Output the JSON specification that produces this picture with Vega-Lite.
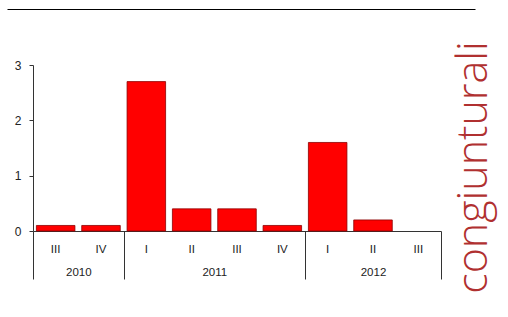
{
  "$schema": "https://vega.github.io/schema/vega-lite/v6.json",
  "width": 408,
  "height": 166,
  "autosize": {"type": "none"},
  "padding": {"left": 33, "top": 65, "right": 67, "bottom": 86},
  "background": "white",
  "config": {"view": {"stroke": null}, "font": "Liberation Sans"},
  "datasets": {
    "quarters": [
      {"key": "2010-III", "year": "2010", "q": "III", "value": 0.1},
      {"key": "2010-IV", "year": "2010", "q": "IV", "value": 0.1},
      {"key": "2011-I", "year": "2011", "q": "I", "value": 2.7},
      {"key": "2011-II", "year": "2011", "q": "II", "value": 0.4},
      {"key": "2011-III", "year": "2011", "q": "III", "value": 0.4},
      {"key": "2011-IV", "year": "2011", "q": "IV", "value": 0.1},
      {"key": "2012-I", "year": "2012", "q": "I", "value": 1.6},
      {"key": "2012-II", "year": "2012", "q": "II", "value": 0.2},
      {"key": "2012-III", "year": "2012", "q": "III", "value": 0}
    ],
    "years": [
      {"year": "2010", "start": 0, "end": 2},
      {"year": "2011", "start": 2, "end": 6},
      {"year": "2012", "start": 6, "end": 9}
    ]
  },
  "layer": [
    {
      "data": {"name": "quarters"},
      "mark": {"type": "bar", "fill": "#ff0000", "stroke": "#8b0000"},
      "encoding": {
        "x": {
          "field": "key", "type": "nominal", "sort": null,
          "scale": {"paddingInner": 0.15, "paddingOuter": 0.075},
          "axis": {
            "orient": "bottom", "title": null, "labelAngle": 0,
            "labelExpr": "split(datum.value, '-')[1]",
            "ticks": false, "tickSize": 0, "labelPadding": 18, "labelBaseline": "middle",
            "labelFontSize": 11.5, "labelColor": "#222222",
            "domainColor": "#333333", "domainWidth": 1
          }
        },
        "y": {
          "field": "value", "type": "quantitative",
          "scale": {"domain": [0, 3], "nice": false},
          "axis": {
            "title": null, "values": [0, 1, 2, 3], "grid": false,
            "tickSize": 4, "tickColor": "#333333", "domainColor": "#333333",
            "labelPadding": 8, "labelFontSize": 12, "labelColor": "#222222",
            "labelBaseline": "middle"
          }
        },
        "strokeWidth": {"condition": {"test": "datum.value == 0", "value": 0}, "value": 0.8}
      }
    },
    {
      "data": {"name": "years"},
      "mark": {"type": "rule", "opacity": 0},
      "encoding": {
        "x": {
          "field": "start", "type": "quantitative",
          "scale": {"domain": [0, 9], "nice": false, "zero": false},
          "axis": {
            "orient": "bottom", "title": null, "grid": false, "domain": false,
            "values": [0, 1, 2, 4, 6, 7.5, 9],
            "tickSize": 48, "tickColor": "#333333",
            "tickOpacity": {"condition": {"test": "datum.value == 1 || datum.value == 4 || datum.value == 7.5", "value": 0}, "value": 1},
            "labelExpr": "datum.value == 1 ? '2010' : datum.value == 4 ? '2011' : datum.value == 7.5 ? '2012' : ''",
            "labelPadding": -7, "labelBaseline": "middle", "labelFlush": false, "labelOverlap": false,
            "labelFontSize": 11.5, "labelColor": "#222222"
          }
        }
      }
    },
    {
      "data": {"name": "years"},
      "mark": {"type": "point", "opacity": 0},
      "encoding": {
        "x": {
          "field": "start", "type": "quantitative",
          "scale": {"domain": [0, 9], "range": [-26, 442], "nice": false, "zero": false},
          "axis": {
            "orient": "top", "offset": 56, "title": null, "grid": false,
            "ticks": false, "labels": false, "domainColor": "#000000", "domainWidth": 1
          }
        },
        "y": {
          "field": "end", "type": "quantitative",
          "axis": {
            "orient": "right", "grid": false, "domain": false, "ticks": false, "labels": false,
            "title": "congiunturali",
            "titleFont": "Open Sans", "titleFontWeight": 300, "titleFontSize": 43,
            "titleColor": "#b03030", "titleAngle": 270,
            "titleAlign": "center", "titleBaseline": "alphabetic",
            "titleX": 45, "titleY": 102
          }
        }
      }
    }
  ],
  "resolve": {
    "scale": {"x": "independent", "y": "independent"},
    "axis": {"x": "independent", "y": "independent"}
  }
}
